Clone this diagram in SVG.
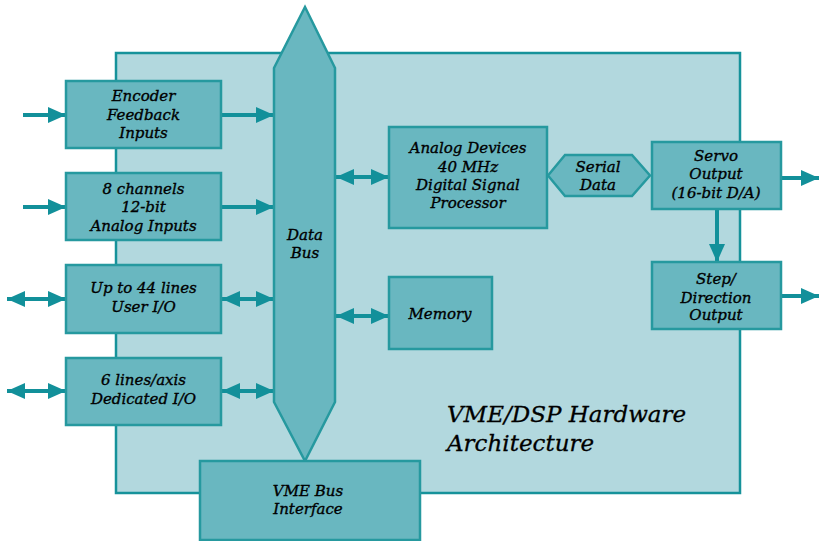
<svg xmlns="http://www.w3.org/2000/svg" width="819" height="541" viewBox="0 0 819 541">
<style>
.bg{fill:#b2d8de;stroke:#16929a;stroke-width:2.5}
.box{fill:#69b7c0;stroke:#26999f;stroke-width:2.5}
.t{font-family:"DejaVu Serif","Liberation Serif",serif;font-style:italic;font-size:15px;fill:#000;stroke:#000;stroke-width:0.35;text-anchor:middle}
.title{font-family:"DejaVu Serif","Liberation Serif",serif;font-style:italic;font-size:23px;fill:#000;stroke:#000;stroke-width:0.3}
.ln{stroke:#12909a;stroke-width:4;fill:none}
.ah{fill:#12909a}
</style>
<defs>
<marker id="arr" viewBox="0 0 18 16" refX="18" refY="8" markerWidth="18" markerHeight="16" markerUnits="userSpaceOnUse" orient="auto-start-reverse">
<path d="M0,0 L18,8 L0,16 Z" class="ah"/>
</marker>
</defs>
<rect class="bg" x="116" y="53" width="624" height="440"/>
<g id="connectors">
<line class="ln" x1="23" y1="115" x2="66" y2="115" marker-end="url(#arr)"/>
<line class="ln" x1="221" y1="115" x2="274" y2="115" marker-end="url(#arr)"/>
<line class="ln" x1="23" y1="207" x2="66" y2="207" marker-end="url(#arr)"/>
<line class="ln" x1="221" y1="207" x2="274" y2="207" marker-end="url(#arr)"/>
<line class="ln" x1="7" y1="299" x2="66" y2="299" marker-start="url(#arr)" marker-end="url(#arr)"/>
<line class="ln" x1="222" y1="299" x2="274" y2="299" marker-start="url(#arr)" marker-end="url(#arr)"/>
<line class="ln" x1="7" y1="391" x2="66" y2="391" marker-start="url(#arr)" marker-end="url(#arr)"/>
<line class="ln" x1="222" y1="391" x2="274" y2="391" marker-start="url(#arr)" marker-end="url(#arr)"/>
<line class="ln" x1="336" y1="177" x2="389" y2="177" marker-start="url(#arr)" marker-end="url(#arr)"/>
<line class="ln" x1="336" y1="316" x2="389" y2="316" marker-start="url(#arr)" marker-end="url(#arr)"/>
<line class="ln" x1="781" y1="178" x2="819" y2="178" marker-end="url(#arr)"/>
<line class="ln" x1="717" y1="209" x2="717" y2="262" marker-end="url(#arr)"/>
<line class="ln" x1="781" y1="296" x2="819" y2="296" marker-end="url(#arr)"/>
</g>
<g id="encoder"><rect class="box" x="66" y="81" width="155" height="67"/>
<text class="t" x="143.5" y="101">Encoder</text><text class="t" x="143.5" y="120">Feedback</text><text class="t" x="143.5" y="138">Inputs</text></g>
<g id="analog"><rect class="box" x="66" y="173" width="155" height="67"/>
<text class="t" x="143.5" y="194">8 channels</text><text class="t" x="143.5" y="212">12-bit</text><text class="t" x="143.5" y="231">Analog Inputs</text></g>
<g id="userio"><rect class="box" x="66" y="265" width="155" height="68"/>
<text class="t" x="143.5" y="293">Up to 44 lines</text><text class="t" x="143.5" y="312">User I/O</text></g>
<g id="dedicated"><rect class="box" x="66" y="358" width="155" height="67"/>
<text class="t" x="143.5" y="385">6 lines/axis</text><text class="t" x="143.5" y="404">Dedicated I/O</text></g>
<g id="databus"><path class="box" d="M305,7 L335,68 L335,402 L305,461 L274,402 L274,68 Z"/>
<text class="t" x="305" y="240">Data</text><text class="t" x="305" y="258">Bus</text></g>
<g id="vme"><rect class="box" x="200" y="461" width="220" height="79"/>
<text class="t" x="308" y="496">VME Bus</text><text class="t" x="308" y="514">Interface</text></g>
<g id="dsp"><rect class="box" x="389" y="127" width="158" height="101"/>
<text class="t" x="468" y="153">Analog Devices</text><text class="t" x="468" y="172">40 MHz</text><text class="t" x="468" y="190">Digital Signal</text><text class="t" x="468" y="208">Processor</text></g>
<g id="serial"><path class="box" d="M548,175.5 L565,155 L632,155 L650,175.5 L632,196 L565,196 Z"/>
<text class="t" x="598" y="172">Serial</text><text class="t" x="598" y="190">Data</text></g>
<g id="servo"><rect class="box" x="652" y="142" width="129" height="67"/>
<text class="t" x="716" y="161">Servo</text><text class="t" x="716" y="179">Output</text><text class="t" x="716" y="198">(16-bit D/A)</text></g>
<g id="step"><rect class="box" x="652" y="262" width="129" height="67"/>
<text class="t" x="716" y="284">Step/</text><text class="t" x="716" y="303">Direction</text><text class="t" x="716" y="320">Output</text></g>
<g id="memory"><rect class="box" x="389" y="277" width="103" height="72"/>
<text class="t" x="440" y="319">Memory</text></g>
<g id="title"><text class="title" x="447" y="422">VME/DSP Hardware</text><text class="title" x="447" y="451">Architecture</text></g>
</svg>
